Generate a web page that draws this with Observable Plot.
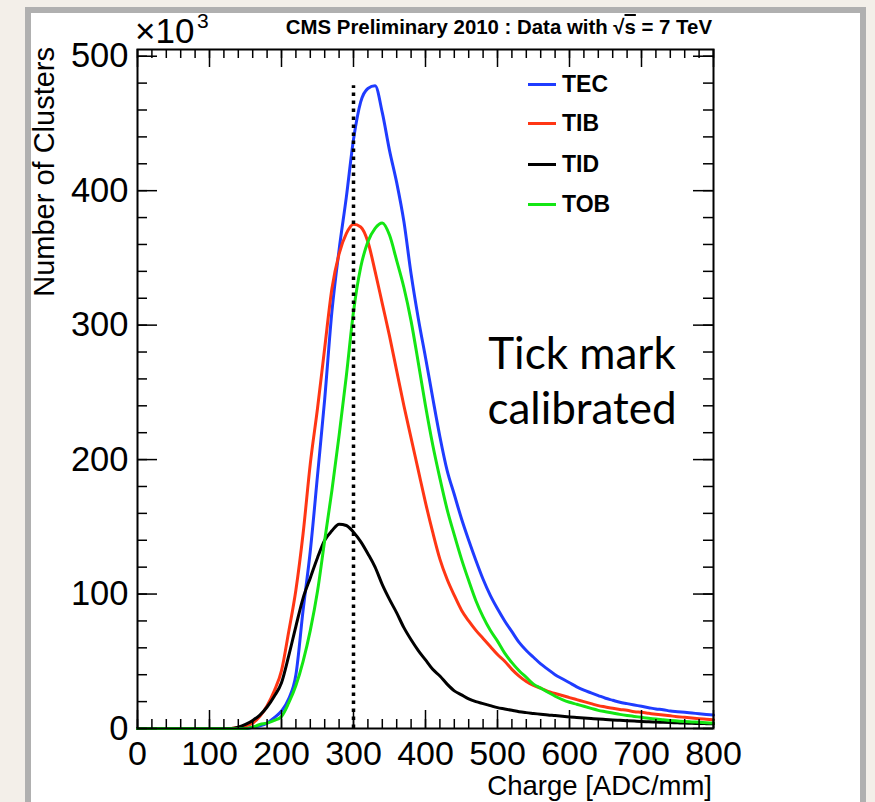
<!DOCTYPE html>
<html><head><meta charset="utf-8">
<script src="https://cdn.jsdelivr.net/npm/d3@7"></script>
<script src="https://cdn.jsdelivr.net/npm/@observablehq/plot@0.6"></script>
<style>
body{margin:0;background:#f3efe9;}
#wrap{position:relative;width:875px;height:802px;overflow:hidden;background:#f3efe9;font-family:'Liberation Sans',Arial,Helvetica,sans-serif;}
#panel{position:absolute;left:25px;top:7px;width:829px;height:820px;background:#fff;border:6px solid #b0b0b0;}
#chart{position:absolute;left:0;top:0;}
.abs{position:absolute;white-space:nowrap;color:#000;line-height:1;}
.leg{position:absolute;font-weight:bold;font-size:23px;line-height:1;white-space:nowrap;}
.key{position:absolute;height:3px;width:28px;}
</style></head><body>
<div id="wrap">
  <div id="panel"></div>
  <div id="chart"></div>
  <div class="abs" id="title" style="right:163px;top:17px;font-size:20.4px;font-weight:bold;">CMS Preliminary 2010 : Data with √<span style="text-decoration:overline">s</span> = 7 TeV</div>
  <div class="abs" style="left:135px;top:13px;font-size:35px;">×10</div>
  <div class="abs" style="left:197px;top:10px;font-size:21px;">3</div>
  <div class="abs" id="ylab" style="right:845px;top:47px;font-size:29px;transform-origin:100% 0;transform:rotate(-90deg);">Number of Clusters</div>
  <div class="abs" style="right:163px;top:772px;font-size:27.5px;">Charge [ADC/mm]</div>
  <div class="abs" style="left:582px;top:325px;transform:translateX(-50%);font-family:Lato,'Open Sans',sans-serif;font-size:44px;line-height:55px;text-align:center;">Tick mark<br>calibrated</div>
  <div id="legend"></div>
</div>
<script>
// ---- data (values in thousands of clusters) ----
const seriesNames = ["TEC", "TIB", "TID", "TOB"];
const seriesColors = ["#1f3cff", "#ff3614", "#000000", "#14e614"];
const charge = d3.range(0, 801, 10); // bin positions, ADC/mm

const tec = [0,0,0,0,0,0,0,0,0,0,0,0,0,0,0,0,
  1,2,4,8,13,22,40,88,132,188,245,310,356,395,438,466,476,478,458,430,406,377,338,305,276,246,217,192,174,156,140,125,111,99,89,80,72,64,58,53,48,44,40,37,34,31,28.5,26.5,24.5,22.5,21,19.5,18.5,17.5,16.5,15.5,14.5,14,13,12.5,12,11.5,11,10.5,10];
const tib = [0,0,0,0,0,0,0,0,0,0,0,0,0,0,
  1,2,4,9,17,28,43,72,103,145,197,238,283,327,353,368,375,373,362,340,316,292,266,240,216,192,168,146,126,111,99,88,80,73,67,61,55,50,44,39,35,32,30,27.5,26,24.5,23,21.5,20,18.5,17,16,15,14.2,13.5,12.5,12,11.3,10.6,10,9.4,8.8,8.3,7.8,7.3,6.9,6.5];
const tid = [0,0,0,0,0,0,0,0,0,0,0,0,0,0,
  1,3,6,10,16,24,34,54,76,97,112,127,140,147,152,151,146,139,130,120,107,96,86,75,66,58,51,44,39,33,28,25,22,20,18.5,17,15.5,14.5,13.5,12.5,11.8,11.2,10.6,10,9.6,9.1,8.6,8.2,7.8,7.4,7,6.7,6.4,6.1,5.8,5.5,5.2,5,4.8,4.6,4.4,4.2,4,3.9,3.7,3.6,3.5];
const tob = [0,0,0,0,0,0,0,0,0,0,0,0,0,0,0,0,
  1,3,4,6,9,19,32,50,73,102,140,177,218,262,310,343,362,372,376,367,348,328,303,272,240,211,186,163,144,126,110,95,83,73,65,56,49,43,38,33,30,27,24,21.5,19.5,18,16.5,15,13.5,12.5,11.5,10.5,9.7,9,8.3,7.6,7,6.5,6,5.6,5.2,4.9,4.6,4.3,4];
const seriesValues = [tec, tib, tid, tob];

const refLine = [{charge: 300, top: 478}];   // dotted calibration marker
const xTicks = [0, 100, 200, 300, 400, 500, 600, 700, 800];
const yTicks = [0, 100, 200, 300, 400, 500];
const xMinor = d3.range(0, 801, 20);
const yMinor = d3.range(0, 501, 20);

// ---- build table ----
const rows = [];
seriesNames.forEach((name, i) => seriesValues[i].forEach((v, j) => rows.push({series: name, charge: charge[j], count: v})));

const W = 875, H = 802, mt = 49, mb = 74, ml = 137, mr = 162;
const fw = W - ml - mr, fh = H - mt - mb;

const chart = Plot.plot({
  width: W, height: H,
  marginTop: mt, marginBottom: mb, marginLeft: ml, marginRight: mr,
  x: {domain: [0, 800]},
  y: {domain: [0, 505]},
  color: {domain: seriesNames, range: seriesColors},
  style: {background: "transparent", overflow: "visible", fontFamily: "'Liberation Sans', Arial, Helvetica, sans-serif", color: "black"},
  marks: [
    Plot.line(rows, {x: "charge", y: "count", z: "series", stroke: "series", strokeWidth: 3, curve: "monotone-x"}),
    Plot.ruleX(refLine, {x: "charge", y1: 0, y2: "top", stroke: "black", strokeWidth: 3.5, strokeDasharray: "3.5,4.5"}),
    Plot.tickX(xTicks, {x: d => d, insetTop: fh - 18, stroke: "black", strokeWidth: 1.5}),
    Plot.tickX(xMinor, {x: d => d, insetTop: fh - 9, stroke: "black", strokeWidth: 1.5}),
    Plot.tickX(xTicks, {x: d => d, insetBottom: fh - 18, stroke: "black", strokeWidth: 1.5}),
    Plot.tickX(xMinor, {x: d => d, insetBottom: fh - 9, stroke: "black", strokeWidth: 1.5}),
    Plot.tickY(yTicks, {y: d => d, insetRight: fw - 20, stroke: "black", strokeWidth: 1.5}),
    Plot.tickY(yMinor, {y: d => d, insetRight: fw - 10, stroke: "black", strokeWidth: 1.5}),
    Plot.tickY(yTicks, {y: d => d, insetLeft: fw - 20, stroke: "black", strokeWidth: 1.5}),
    Plot.tickY(yMinor, {y: d => d, insetLeft: fw - 10, stroke: "black", strokeWidth: 1.5}),
    Plot.frame({stroke: "black", strokeWidth: 2}),
    Plot.axisX({ticks: xTicks, tickSize: 0, tickPadding: 12, fontSize: 34, label: null, tickFormat: d => String(d)}),
    Plot.axisY({ticks: yTicks, tickSize: 0, tickPadding: 9, fontSize: 34.5, label: null, tickFormat: d => String(d)})
  ]
});
document.getElementById("chart").appendChild(chart);

// ---- legend ----
const legend = document.getElementById("legend");
const rowCenters = [84, 123, 164, 204];
seriesNames.forEach((name, i) => {
  const k = document.createElement("div");
  k.className = "key";
  k.style.left = "528px"; k.style.top = (rowCenters[i] - 1.5) + "px"; k.style.background = seriesColors[i];
  legend.appendChild(k);
  const t = document.createElement("div");
  t.className = "leg";
  t.style.left = "562px"; t.style.top = (rowCenters[i] + 8 - 19.5) + "px";
  t.textContent = name;
  legend.appendChild(t);
});
</script>
</body></html>
